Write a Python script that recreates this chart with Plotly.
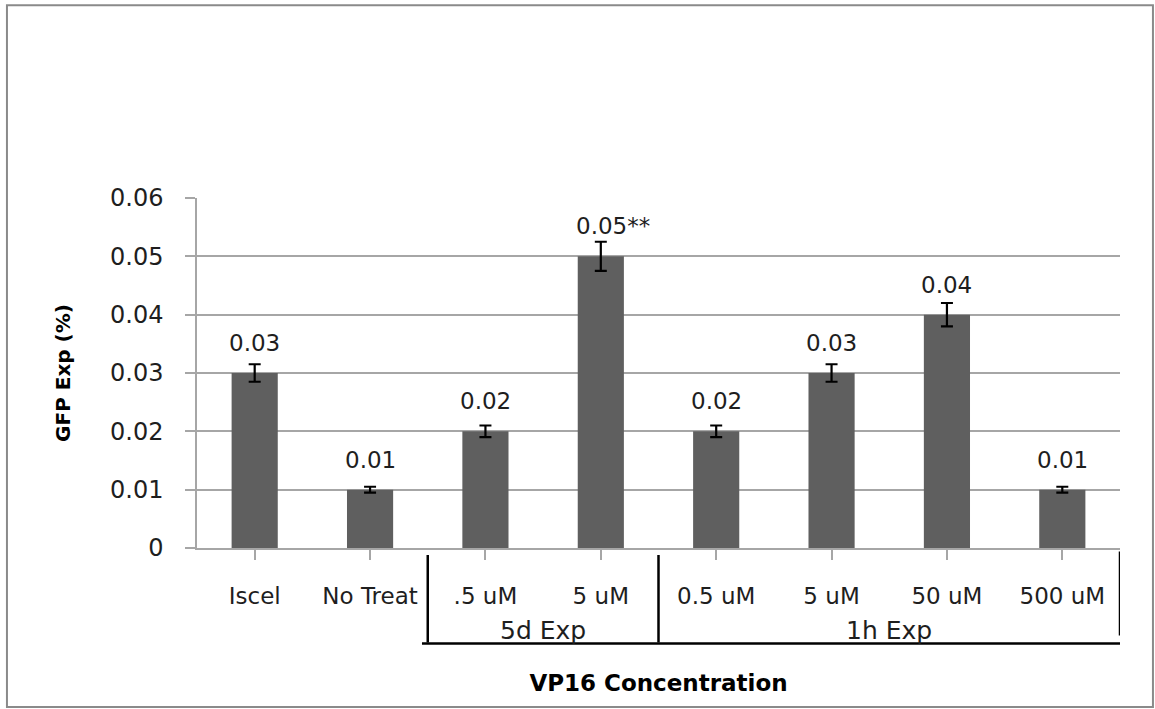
import plotly.graph_objects as go

categories = ["Iscel", "No Treat", ".5 uM", "5 uM", "0.5 uM", "5 uM ", "50 uM", "500 uM"]
values = [0.03, 0.01, 0.02, 0.05, 0.02, 0.03, 0.04, 0.01]
errors = [0.0015, 0.0005, 0.001, 0.0025, 0.001, 0.0015, 0.002, 0.0005]
value_labels = ["0.03", "0.01", "0.02", "0.05**", "0.02", "0.03", "0.04", "0.01"]
groups = [("5d Exp", 1.5, 3.5), ("1h Exp", 3.5, 7.5)]
y_ticks = [0, 0.01, 0.02, 0.03, 0.04, 0.05, 0.06]
y_tick_text = ["0", "0.01", "0.02", "0.03", "0.04", "0.05", "0.06"]

FONT = "'DejaVu Sans', sans-serif"
GRID = "#a6a6a6"
TXT = "#1e1e1e"

fig = go.Figure()
fig.add_trace(go.Bar(
    x=list(range(len(categories))), y=values,
    marker=dict(color="#5f5f5f", line=dict(width=0)),
    width=0.4,
    error_y=dict(type="data", array=errors, visible=True, color="black", thickness=2.2, width=6),
    showlegend=False, hoverinfo="skip",
))

annotations = []
for i, (v, t) in enumerate(zip(values, value_labels)):
    if t.endswith("**"):
        annotations.append(dict(x=i, y=v, xref="x", yref="y", text=t, showarrow=False,
                                yanchor="bottom", xanchor="left", yshift=15, xshift=-27,
                                font=dict(family=FONT, size=23, color=TXT)))
    else:
        annotations.append(dict(x=i, y=v, xref="x", yref="y", text=t, showarrow=False,
                                yanchor="bottom", yshift=15,
                                font=dict(family=FONT, size=23, color=TXT)))

shapes = []
for name, x0, x1 in groups:
    annotations.append(dict(x=(x0 + x1) / 2, y=-0.236, xref="x", yref="paper", text=name,
                            showarrow=False, yanchor="middle",
                            font=dict(family=FONT, size=25, color=TXT)))
    shapes.append(dict(type="line", xref="x", yref="paper", x0=x0, x1=x0, y0=-0.02, y1=-0.27,
                       line=dict(color="black", width=2.5)))
shapes.append(dict(type="line", xref="x", yref="paper", x0=7.5, x1=7.5, y0=-0.01, y1=-0.25,
                   line=dict(color="black", width=2.5)))
shapes.append(dict(type="line", xref="x", yref="paper", x0=1.45, x1=7.5, y0=-0.273, y1=-0.273,
                   line=dict(color="black", width=2.5)))
# outer chart border
shapes.append(dict(type="rect", xref="paper", yref="paper", x0=-0.2059, x1=1.0357, y0=-0.454, y1=1.551,
                   line=dict(color="#8a8a8a", width=2)))

fig.update_layout(
    width=1155, height=709,
    margin=dict(l=197, r=35, t=198, b=161, autoexpand=False),
    plot_bgcolor="white", paper_bgcolor="white",
    annotations=annotations, shapes=shapes,
    xaxis=dict(
        tickmode="array", tickvals=list(range(len(categories))), ticktext=[c.strip() for c in categories],
        range=[-0.5, 7.5], showgrid=False,
        showline=True, linecolor=GRID, linewidth=1.5,
        ticks="outside", ticklen=10, tickcolor=GRID, tickwidth=1.5,
        tickfont=dict(family=FONT, size=23, color=TXT),
        ticklabelstandoff=17,
        title=dict(text="<b>VP16 Concentration</b>", font=dict(family=FONT, size=23, color="black"), standoff=67),
    ),
    yaxis=dict(
        range=[0, 0.06], tickvals=y_ticks, ticktext=y_tick_text,
        showgrid=True, gridcolor=GRID, gridwidth=1.5,
        showline=True, linecolor=GRID, linewidth=1.5,
        ticks="outside", ticklen=10, tickcolor=GRID, tickwidth=1.5,
        tickfont=dict(family=FONT, size=24, color=TXT),
        ticklabelstandoff=17, zeroline=False,
        title=dict(text="<b>GFP Exp (%)</b>", font=dict(family=FONT, size=20, color="black"), standoff=34),
    ),
)

fig.write_html("out.html", config={"displayModeBar": False},
               post_script="document.body.style.margin='0px';")
